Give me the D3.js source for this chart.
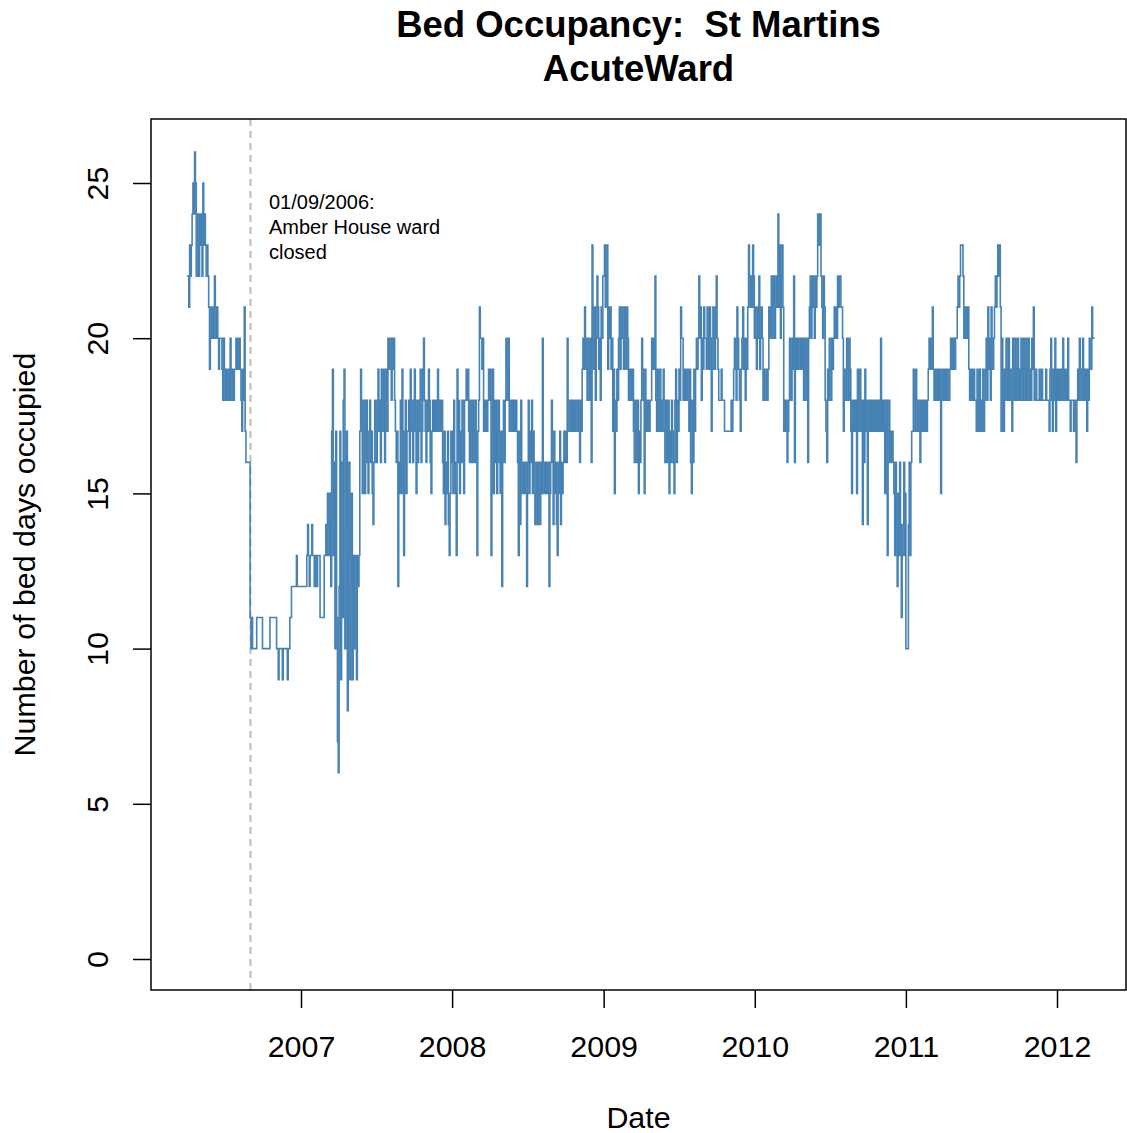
<!DOCTYPE html>
<html>
<head>
<meta charset="utf-8">
<script src="https://cdn.jsdelivr.net/npm/d3@7/dist/d3.min.js"></script>
<style>
  html, body { margin: 0; padding: 0; background: #ffffff; }
  svg { display: block; font-family: "Liberation Sans", Arial, Helvetica, sans-serif; }
  .pre { white-space: pre; }
</style>
</head>
<body>
<svg id="chart" width="1127" height="1133"></svg>
<script>
// Occupied bed days, St Martins acute ward. One value per two-day step,
// each yearly block starting on the date given in yearStarts.
const yearStarts = ["2006-04-01", "2007-01-01", "2008-01-01", "2009-01-01", "2010-01-01", "2011-01-01", "2012-01-01"];
const seriesEnd = "2012-04-01";

const bedDays2006 = [
  22, 22, 21, 23, 22, 23, 24, 25, 24, 26, 25, 22,
  24, 23, 22, 24, 23, 24, 22, 25, 23, 24, 23, 22, 23,
  22, 21, 19, 20, 21, 20, 21, 20, 22, 21, 20,
  21, 20, 19, 20, 20, 20, 19, 18, 20, 19, 18,
  19, 18, 19, 19, 18, 20, 19, 18, 19, 18, 19, 19,
  20, 19, 20, 19, 20, 19, 18, 17, 19, 18, 21, 17,
  16, 16, 16, 16, 16,
  11, 10, 11, 10, 10, 10, 10, 10,
  11, 11, 11, 11, 11, 11, 11,
  10, 10, 10, 10, 10, 10, 10, 10, 10,
  11, 11, 11, 11, 11, 11, 11, 11,
  10, 10, 9, 10, 10, 10, 10, 9, 10, 10, 10, 10, 10, 9, 10, 10,
  11, 11, 12, 12, 12, 12, 12, 12,
  13, 12, 12, 12, 12, 12
];

const bedDays2007 = [
  12, 12, 12, 12, 12, 12, 12,
  13, 14, 13, 12, 13, 13, 14, 13, 13, 12, 13, 13, 12, 13, 13, 13,
  11, 11, 11, 11, 11,
  13, 13, 14, 13, 15, 14, 13,
  15, 12, 17, 19, 13, 16, 10, 17, 11, 7, 6, 12, 17, 9, 16, 11, 18, 19,
  10, 14, 17, 8, 13, 16, 9, 12, 15, 9, 13, 10, 13, 13, 9, 13, 12, 13,
  17, 19, 18, 15,
  16, 18, 15, 17, 18, 16, 15, 17, 18, 16, 17, 15, 14, 16, 18, 17, 16, 18,
  19,
  17, 18, 16, 19, 18, 17, 19, 16, 18, 19, 17,
  20, 19, 20, 20, 18, 20, 19, 20, 18,
  17, 16, 17, 12, 16, 15,
  18, 15, 19, 17, 13, 16, 18, 15, 17,
  17, 18, 16, 19, 18, 17, 16, 18, 19, 17, 15, 18, 16, 17, 18, 19,
  16, 17, 19, 20, 18, 17, 16, 18, 17, 19, 18, 16, 15, 17, 18,
  17, 18, 17, 18, 17, 19, 18, 17, 18, 17, 18, 16,
  15, 17, 14, 16, 15, 17, 14, 13, 15, 17, 16
];

const bedDays2008 = [
  17, 15, 18, 16, 15, 13, 19,
  16, 18, 15, 17, 16, 18, 17, 15, 18,
  18, 19, 18, 19,
  17, 16, 18, 17, 16, 18, 17, 16, 18, 17, 13, 17,
  18, 21, 20, 20, 19, 20,
  17, 18, 17, 18, 17,
  18, 19, 18, 19,
  13, 17, 19, 15, 18,
  16, 18, 15, 17, 18, 16, 15, 17,
  12,
  17, 18, 16,
  18, 20, 19, 18, 20, 17,
  17, 18, 17, 18, 17, 18, 17, 18, 17,
  16, 13, 17, 14, 18, 15,
  15, 16, 15, 16, 15, 12,
  16, 18, 15, 17, 16, 18, 15, 17, 16, 14, 15, 16, 14,
  16, 15, 14, 16, 15,
  20,
  16, 15, 16, 15, 16, 15, 16, 12, 15, 16,
  18,
  16, 14, 17, 15, 16, 14, 13, 16, 15, 17, 14, 16, 15,
  16, 17, 16, 17, 16,
  20,
  18, 17, 18, 18, 17, 18, 17, 18, 17, 18, 18, 17, 18, 17, 16, 18, 17,
  19, 20, 19, 21, 20, 19,
  18, 20, 19, 18, 20, 16,
  23,
  20, 19, 21, 18, 20, 22, 21, 19, 20, 18, 21, 20, 22
];

const bedDays2009 = [
  22, 23, 21, 22, 23,
  19, 21, 20, 21, 19, 20,
  17, 19, 15, 18, 17, 19, 18,
  20, 21, 19, 20, 21, 20, 19, 21, 20, 19, 21, 20,
  18, 19, 18, 19, 18, 19,
  17, 16, 18, 17, 16, 18, 15, 17, 16,
  18, 20, 19, 18, 15, 19,
  17, 18, 17, 18, 17, 18,
  18, 20, 19, 20, 19, 22,
  18, 17, 19, 18, 17, 19, 18, 17, 18, 19,
  17, 16, 18, 17, 16, 18, 15, 17, 16, 18, 17, 16, 15, 18,
  19, 16, 18, 17, 19, 18,
  21, 20, 20,
  18, 19, 18, 19, 18, 19, 18,
  17, 19, 16, 15, 18, 16, 19, 17,
  19, 20, 19, 20,
  22,
  20, 21, 18, 20, 19, 21, 20,
  20, 19, 21, 20, 19, 21, 20, 17, 19, 21, 20, 19, 21, 22, 20, 19,
  18, 18, 18, 19, 18, 18,
  18, 17, 17, 17, 17, 17, 17, 17, 17, 18, 17,
  18, 19, 20, 19, 18, 21, 20, 19, 18, 17, 19, 20, 21, 19, 20, 18,
  20, 19, 21, 23, 22, 21, 22, 21, 23, 22, 20
];

const bedDays2010 = [
  21, 20, 19, 21, 20, 22, 19, 20, 21, 20,
  18, 19, 18, 18, 19, 18,
  19, 21, 20, 21,
  22, 20, 21, 22, 20, 21, 22, 21,
  24,
  21, 23, 20, 22, 23, 21,
  17, 18, 17, 18, 16, 17,
  18, 20, 19, 18, 20, 19,
  22,
  16,
  20, 19, 20, 19, 20, 20, 19, 20, 19, 20,
  18, 20, 19, 18, 20, 16,
  20, 21, 22, 20, 21, 22, 21, 20, 22, 21, 22,
  24, 24, 23, 24, 22,
  21, 20, 22, 21,
  18, 17, 16, 19, 18, 20, 19, 18, 20, 19, 20, 21, 20,
  21, 20, 22, 21, 22, 22,
  21, 21, 20,
  17, 19, 18,
  18, 20, 19, 18, 20, 19,
  17, 15, 18, 17, 18, 17,
  18, 15, 19, 17, 18, 19, 17, 18,
  14, 18, 16, 19, 17, 18, 14,
  17, 18, 17, 18, 17, 18, 17, 18, 17, 18, 17, 18, 17, 18, 17,
  20,
  17, 18, 17, 18, 15, 17, 18, 13, 17, 18, 16, 17,
  16, 17, 16,
  15, 13, 16, 14, 12, 15, 13, 16, 14, 11, 13,
  14, 16, 13, 15
];

const bedDays2011 = [
  10, 10, 10,
  14, 16, 13, 16, 17,
  17, 19, 18, 17, 19, 18,
  17, 18, 17, 16, 18, 17, 18,
  17, 18, 17, 18, 17, 18,
  19, 20, 19, 20, 19,
  21,
  19, 18, 19, 18, 19, 18, 19, 18, 19, 15, 18,
  19, 18, 19, 18, 19, 18, 19,
  18, 18, 19,
  20, 19, 20, 19, 20, 19, 20, 20,
  21, 22, 21, 22,
  23, 23, 23, 22,
  20, 21, 20, 21, 20, 21,
  19, 18, 19, 18, 19, 18, 19, 18,
  18, 17, 19, 18, 17, 19, 18, 17, 18, 19, 17, 18,
  19, 20, 18, 21, 19, 20, 18, 21, 20, 19,
  20, 21,
  22, 21, 22, 23, 22, 23,
  21, 17, 20, 19,
  17, 19, 18, 20, 19, 18, 20, 18, 19, 18, 17, 20, 19, 18, 20, 18, 19, 20,
  18, 19, 18, 20, 19, 18, 20, 19, 18, 20, 18, 19, 20, 18, 19, 18, 20, 19,
  21,
  18, 18, 19, 18, 18, 18, 19, 18, 18, 19, 18, 18, 18, 18, 19, 18, 18,
  18, 17, 19, 20, 18, 17, 19, 18, 20,
  17, 18
];

const bedDays2012 = [
  19, 18, 19, 18, 19, 18, 19, 20, 18, 19, 18, 19, 18,
  20,
  18, 18, 17, 18, 18, 18, 17, 18, 18, 16, 18,
  19, 18, 20, 19, 18, 19, 20, 18, 19, 18, 19, 17, 19, 18, 20,
  19, 19, 21, 20, 20, 20
];

const yearBlocks = [bedDays2006, bedDays2007, bedDays2008, bedDays2009, bedDays2010, bedDays2011, bedDays2012];

const yTicks = [0, 5, 10, 15, 20, 25];
const xTickYears = [2007, 2008, 2009, 2010, 2011, 2012];

const closureDate = "2006-09-01";
const closureNote = ["01/09/2006:", "Amber House ward", "closed"];
const titleLines = ["Bed Occupancy:  St Martins", "AcuteWard"];
const xTitle = "Date";
const yTitle = "Number of bed days occupied";

// ---- build dated points ----
const DAY = 86400000;
const points = [];
yearBlocks.forEach((vals, k) => {
  const t0 = Date.parse(yearStarts[k] + "T00:00:00Z");
  vals.forEach((v, i) => points.push({ date: new Date(t0 + 2 * i * DAY), value: v }));
});
points.push({ date: new Date(Date.parse(seriesEnd + "T00:00:00Z")), value: points[points.length - 1].value });

// ---- layout ----
const svg = d3.select("#chart");
const plot = { left: 151, right: 1126, top: 119, bottom: 990 };

const x = d3.scaleUtc()
  .domain([new Date(Date.UTC(2007, 0, 1)), new Date(Date.UTC(2012, 0, 1))])
  .range([301, 1057]);
const y = d3.scaleLinear().domain([0, 25]).range([959, 183]);

const axisFont = 30.4;

// closure marker
svg.append("line")
  .attr("x1", x(new Date(closureDate + "T00:00:00Z"))).attr("x2", x(new Date(closureDate + "T00:00:00Z")))
  .attr("y1", plot.top).attr("y2", plot.bottom)
  .attr("stroke", "#bebebe").attr("stroke-width", 2).attr("stroke-dasharray", "7,5");

// occupancy series
const line = d3.line()
  .x(d => x(d.date))
  .y(d => y(d.value))
  .curve(d3.curveStepAfter);

svg.append("path")
  .datum(points)
  .attr("d", line)
  .attr("fill", "none")
  .attr("stroke", "#4682B4")
  .attr("stroke-width", 1.6)
  .attr("stroke-linejoin", "miter");

// plot frame
svg.append("rect")
  .attr("x", plot.left).attr("y", plot.top)
  .attr("width", plot.right - plot.left).attr("height", plot.bottom - plot.top)
  .attr("fill", "none").attr("stroke", "#000").attr("stroke-width", 1.5);

// y axis
const yAxisG = svg.append("g").attr("transform", `translate(${plot.left},0)`)
  .call(d3.axisLeft(y).tickValues(yTicks).tickSize(18).tickFormat(d3.format("d")));
yAxisG.select(".domain").remove();
yAxisG.selectAll(".tick line").attr("stroke", "#000").attr("stroke-width", 1.5);
yAxisG.selectAll(".tick text")
  .attr("x", null).attr("dy", null)
  .attr("transform", "translate(-43,0) rotate(-90)")
  .attr("text-anchor", "middle")
  .style("font-size", axisFont + "px")
  .style("font-family", "'Liberation Sans', Arial, sans-serif")
  .attr("fill", "#000");

// x axis
const xAxisG = svg.append("g").attr("transform", `translate(0,${plot.bottom})`)
  .call(d3.axisBottom(x)
    .tickValues(xTickYears.map(yr => new Date(Date.UTC(yr, 0, 1))))
    .tickSize(18)
    .tickFormat(d3.utcFormat("%Y")));
xAxisG.select(".domain").remove();
xAxisG.selectAll(".tick line").attr("stroke", "#000").attr("stroke-width", 1.5);
xAxisG.selectAll(".tick text")
  .attr("y", 67).attr("dy", null)
  .style("font-size", axisFont + "px")
  .style("font-family", "'Liberation Sans', Arial, sans-serif")
  .attr("fill", "#000");

// axis titles
svg.append("text")
  .attr("x", (plot.left + plot.right) / 2).attr("y", 1128)
  .attr("text-anchor", "middle")
  .style("font-size", axisFont + "px")
  .text(xTitle);

svg.append("text")
  .attr("transform", `translate(35,${(plot.top + plot.bottom) / 2}) rotate(-90)`)
  .attr("text-anchor", "middle")
  .style("font-size", axisFont + "px")
  .text(yTitle);

// title
titleLines.forEach((t, i) => {
  svg.append("text")
    .attr("class", "pre")
    .attr("x", (plot.left + plot.right) / 2).attr("y", 37 + i * 44)
    .attr("text-anchor", "middle")
    .style("font-size", "36.5px")
    .style("font-weight", "bold")
    .text(t);
});

// closure note
closureNote.forEach((t, i) => {
  svg.append("text")
    .attr("x", 269).attr("y", 209 + i * 25)
    .style("font-size", "20px")
    .text(t);
});
</script>
</body>
</html>
